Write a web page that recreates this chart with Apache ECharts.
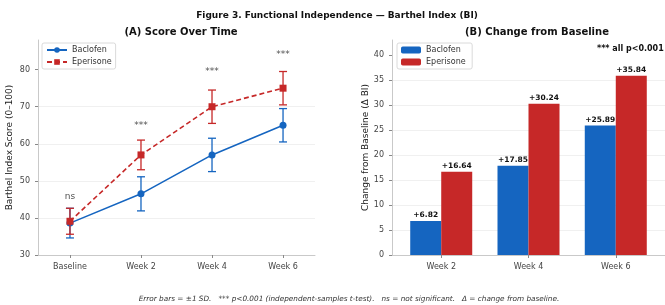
<!DOCTYPE html>
<html><head><meta charset="utf-8">
<script src="https://cdn.jsdelivr.net/npm/echarts@6/dist/echarts.min.js"></script>
<style>html,body{margin:0;padding:0;background:#fff}#c{width:665px;height:305px}</style>
</head><body><div id="c"></div>
<script>
const timepoints = ['Baseline', 'Week 2', 'Week 4', 'Week 6'];
const baclofenMean = [38.6, 46.5, 57.0, 65.0];
const baclofenSD = [4.0, 4.6, 4.5, 4.5];
const eperisoneMean = [39.1, 57.0, 70.0, 75.0];
const eperisoneSD = [3.5, 4.0, 4.5, 4.5];
const sigLabels = ['ns', '***', '***', '***'];
const sigY = [45.7, 65.0, 79.4, 84.0];
const changeWeeks = ['Week 2', 'Week 4', 'Week 6'];
const baclofenChange = [6.82, 17.85, 25.89];
const eperisoneChange = [16.64, 30.24, 35.84];
const scoreTicks = [30, 40, 50, 60, 70, 80];
const changeTicks = [0, 5, 10, 15, 20, 25, 30, 35, 40];

const BLUE = '#1565C0', RED = '#C62828';
const FONT = 'DejaVu Sans';
const chart = echarts.init(document.getElementById('c'), null, {renderer: 'canvas'});

function errRender(color) {
  return function (params, api) {
    const x = api.value(0), m = api.value(1), sd = api.value(2);
    const t = api.coord([x, m + sd]), b = api.coord([x, m - sd]);
    const cw = 4;
    const st = {stroke: color, lineWidth: 1.3};
    return {type: 'group', children: [
      {type: 'line', shape: {x1: t[0], y1: t[1], x2: b[0], y2: b[1]}, style: st},
      {type: 'line', shape: {x1: t[0] - cw, y1: t[1], x2: t[0] + cw, y2: t[1]}, style: st},
      {type: 'line', shape: {x1: b[0] - cw, y1: b[1], x2: b[0] + cw, y2: b[1]}, style: st}
    ]};
  };
}

const axisLineStyle = {show: true, onZero: false, lineStyle: {color: '#bbbbbb', width: 0.8}};
const tickStyle = {color: '#888'};
const labelStyle = {color: '#444', fontSize: 8, fontFamily: FONT};

const option = {
  backgroundColor: '#fff',
  animation: false,
  textStyle: {fontFamily: FONT},
  title: [
    {text: 'Figure 3. Functional Independence — Barthel Index (BI)', left: 332, top: 6, textAlign: 'center',
      textStyle: {fontSize: 9, fontWeight: 'bold', color: '#111', fontFamily: FONT}},
    {text: '(A) Score Over Time', left: 176, top: 22, textAlign: 'center',
      textStyle: {fontSize: 10, fontWeight: 'bold', color: '#111', fontFamily: FONT}},
    {text: '(B) Change from Baseline', left: 532, top: 22, textAlign: 'center',
      textStyle: {fontSize: 10, fontWeight: 'bold', color: '#111', fontFamily: FONT}},
    {text: 'Error bars = ±1 SD.   *** p<0.001 (independent-samples t-test).   ns = not significant.   Δ = change from baseline.',
      left: 344, top: 291, textAlign: 'center',
      textStyle: {fontSize: 7.3, fontStyle: 'italic', fontWeight: 'normal', color: '#333', fontFamily: FONT}}
  ],
  legend: [
    {data: ['Baclofen', 'Eperisone'], orient: 'vertical', left: 42, top: 43,
      itemWidth: 20, itemHeight: 7, itemGap: 4, padding: [3, 4, 3, 4],
      backgroundColor: '#fff', borderColor: '#d0d0d0', borderWidth: 0.8, borderRadius: 2,
      textStyle: {fontSize: 8, color: '#333', fontFamily: FONT}},
    {data: ['Baclofen ', 'Eperisone '], orient: 'vertical', left: 397, top: 43,
      itemWidth: 20, itemHeight: 7, itemGap: 4, padding: [3, 4, 3, 4],
      backgroundColor: '#fff', borderColor: '#d0d0d0', borderWidth: 0.8, borderRadius: 2,
      textStyle: {fontSize: 8, color: '#333', fontFamily: FONT}}
  ],
  grid: [
    {left: 38, top: 40, width: 277, bottom: 50},
    {left: 392, top: 40, width: 280, bottom: 50}
  ],
  xAxis: [
    {type: 'value', gridIndex: 0, min: -0.45, max: 3.45,
      axisLine: axisLineStyle, splitLine: {show: false},
      axisTick: {show: true, length: 3, lineStyle: tickStyle, customValues: [0, 1, 2, 3]},
      axisLabel: Object.assign({}, labelStyle, {customValues: [0, 1, 2, 3],
        formatter: v => timepoints[Math.round(v)]})},
    {type: 'value', gridIndex: 1, min: -0.564, max: 2.564,
      axisLine: axisLineStyle, splitLine: {show: false},
      axisTick: {show: true, length: 3, lineStyle: tickStyle, customValues: [0, 1, 2]},
      axisLabel: Object.assign({}, labelStyle, {customValues: [0, 1, 2],
        formatter: v => changeWeeks[Math.round(v)]})}
  ],
  yAxis: [
    {type: 'value', gridIndex: 0, min: 30, max: 88, interval: 10,
      name: 'Barthel Index Score (0–100)', nameLocation: 'middle', nameGap: 24,
      nameTextStyle: {fontSize: 9, color: '#222', fontFamily: FONT},
      axisLine: axisLineStyle,
      splitLine: {show: true, showMinLine: false, showMaxLine: false, lineStyle: {color: '#ececec', width: 0.8}},
      axisTick: {show: true, length: 3, lineStyle: tickStyle, customValues: scoreTicks},
      axisLabel: Object.assign({}, labelStyle, {customValues: scoreTicks})},
    {type: 'value', gridIndex: 1, min: 0, max: 43, interval: 5,
      name: 'Change from Baseline (Δ BI)', nameLocation: 'middle', nameGap: 22,
      nameTextStyle: {fontSize: 9, color: '#222', fontFamily: FONT},
      axisLine: axisLineStyle,
      splitLine: {show: true, showMinLine: false, showMaxLine: false, lineStyle: {color: '#ececec', width: 0.8}},
      axisTick: {show: true, length: 3, lineStyle: tickStyle, customValues: changeTicks},
      axisLabel: Object.assign({}, labelStyle, {customValues: changeTicks})}
  ],
  graphic: [
    {type: 'text', left: 597, top: 45, style: {text: '*** all p<0.001', fontSize: 8, fontWeight: 'bold', fill: '#111', fontFamily: FONT}}
  ],
  series: [
    {type: 'custom', name: 'Baclofen err', xAxisIndex: 0, yAxisIndex: 0, z: 2,
      renderItem: errRender(BLUE), encode: {x: 0, y: 1},
      data: baclofenMean.map((m, i) => [i, m, baclofenSD[i]])},
    {type: 'line', name: 'Baclofen', xAxisIndex: 0, yAxisIndex: 0, z: 3,
      data: baclofenMean.map((m, i) => [i, m]),
      symbol: 'circle', symbolSize: 7, color: BLUE,
      lineStyle: {width: 1.6, color: BLUE}, itemStyle: {color: BLUE}},
    {type: 'custom', name: 'Eperisone err', xAxisIndex: 0, yAxisIndex: 0, z: 4,
      renderItem: errRender(RED), encode: {x: 0, y: 1},
      data: eperisoneMean.map((m, i) => [i, m, eperisoneSD[i]])},
    {type: 'line', name: 'Eperisone', xAxisIndex: 0, yAxisIndex: 0, z: 5,
      data: eperisoneMean.map((m, i) => [i, m]),
      symbol: 'rect', symbolSize: 7, color: RED,
      lineStyle: {width: 1.6, color: RED, type: [5, 3]}, itemStyle: {color: RED}},
    {type: 'scatter', name: 'sig', xAxisIndex: 0, yAxisIndex: 0, z: 6, symbolSize: 0,
      data: sigY.map((y, i) => [i, y]),
      label: {show: true, position: 'inside', formatter: p => sigLabels[p.dataIndex],
        fontSize: 9, color: '#222', fontFamily: FONT}},
    {type: 'bar', name: 'Baclofen ', xAxisIndex: 1, yAxisIndex: 1, barWidth: 31, barGap: '0%',
      color: BLUE, itemStyle: {color: BLUE},
      data: baclofenChange.map((v, i) => [i, v]),
      label: {show: true, position: 'top', distance: 2, formatter: p => '+' + p.value[1].toFixed(2),
        fontSize: 7.5, fontWeight: 'bold', color: '#111', fontFamily: FONT}},
    {type: 'bar', name: 'Eperisone ', xAxisIndex: 1, yAxisIndex: 1, barWidth: 31, barGap: '0%',
      color: RED, itemStyle: {color: RED},
      data: eperisoneChange.map((v, i) => [i, v]),
      label: {show: true, position: 'top', distance: 2, formatter: p => '+' + p.value[1].toFixed(2),
        fontSize: 7.5, fontWeight: 'bold', color: '#111', fontFamily: FONT}}
  ]
};
chart.setOption(option);
</script></body></html>
